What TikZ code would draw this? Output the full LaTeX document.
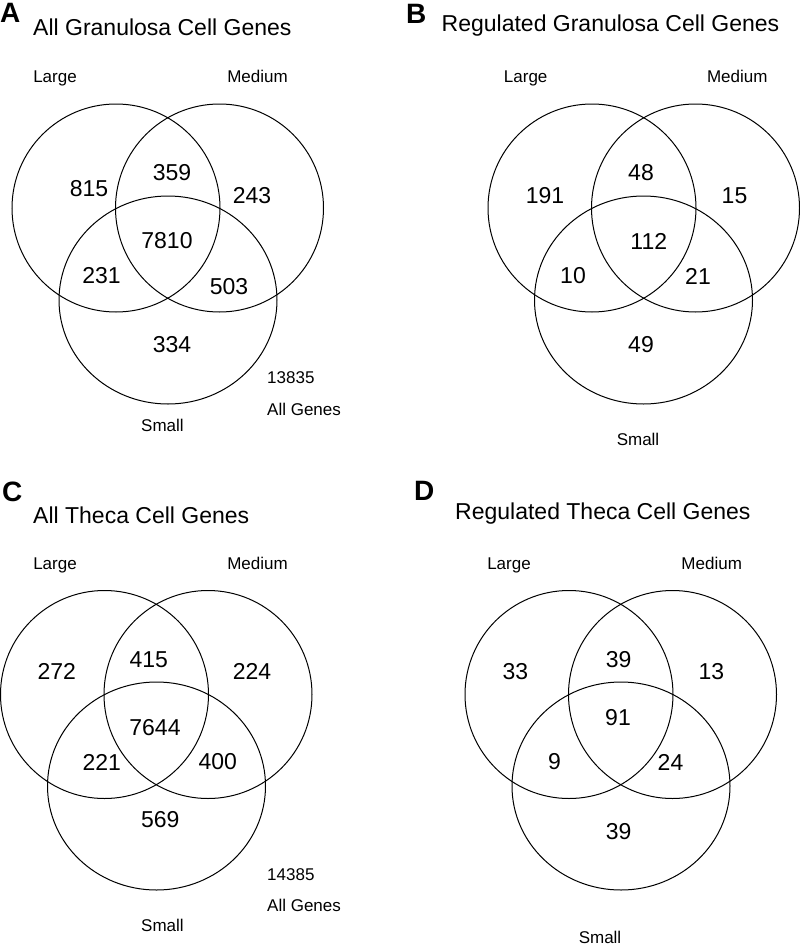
\documentclass[tikz,border=0pt]{standalone}
\usepackage{fontspec}
\setmainfont{Liberation Sans}
\usetikzlibrary{shapes.geometric}
\tikzstyle{ring} = [circle, draw=black, line width=1pt, minimum size=208pt, inner sep=0pt]
\tikzstyle{oval} = [ellipse, draw=black, line width=1pt, minimum width=218pt, minimum height=208pt, inner sep=0pt]
\tikzstyle{count} = [font=\fontsize{23}{27}\selectfont, inner sep=0pt]
\tikzstyle{setname} = [font=\fontsize{17}{20}\selectfont, anchor=base, inner sep=0pt]
\tikzstyle{heading} = [font=\fontsize{23}{27}\selectfont, anchor=base west, inner sep=0pt]
\tikzstyle{panel} = [font=\fontsize{28}{32}\selectfont\bfseries, anchor=base west, inner sep=0pt]
\tikzstyle{total} = [font=\fontsize{17}{20}\selectfont, anchor=base west, inner sep=0pt]

\begin{document}
\begin{tikzpicture}[x=1pt, y=-1pt]
    \useasboundingbox (0,0) rectangle (800,945);

    % A: all granulosa cell genes
    \node (panA) [panel] at (0,22) {A};
    \node (headA) [heading] at (33,35) {All Granulosa Cell Genes};
    \node (largeA) [setname] at (55,82) {Large};
    \node (mediumA) [setname] at (257.5,82) {Medium};
    \node (smallA) [setname] at (162.5,431.5) {Small};
    \node (ringLA) [ring] at (116,208) {};
    \node (ringMA) [ring] at (219.5,208) {};
    \node (ringSA) [oval] at (168,300) {};
    \node (lA) [count] at (89,189) {815};
    \node (lmA) [count] at (172,172.5) {359};
    \node (mA) [count] at (252,195.5) {243};
    \node (lmsA) [count] at (167,241) {7810};
    \node (lsA) [count] at (101.5,276) {231};
    \node (msA) [count] at (229,287) {503};
    \node (sA) [count] at (172,344.5) {334};
    \node (totA) [total] at (267,383) {13835};
    \node (allA) [total] at (267,415) {All Genes};

    % B: regulated granulosa cell genes
    \node (panB) [panel] at (406,23) {B};
    \node (headB) [heading] at (441.5,31.7) {Regulated Granulosa Cell Genes};
    \node (largeB) [setname] at (525.7,82) {Large};
    \node (mediumB) [setname] at (737.3,82) {Medium};
    \node (smallB) [setname] at (638,445) {Small};
    \node (ringLB) [ring] at (592,208) {};
    \node (ringMB) [ring] at (695.5,208) {};
    \node (ringSB) [oval] at (643.5,300) {};
    \node (lB) [count] at (545,195.5) {191};
    \node (lmB) [count] at (641,172.5) {48};
    \node (mB) [count] at (734.5,195.5) {15};
    \node (lmsB) [count] at (648.8,241) {112};
    \node (lsB) [count] at (573,276) {10};
    \node (msB) [count] at (698,276) {21};
    \node (sB) [count] at (641,344.5) {49};

    % C: all theca cell genes
    \node (panC) [panel] at (2,501) {C};
    \node (headC) [heading] at (33,523.3) {All Theca Cell Genes};
    \node (largeC) [setname] at (55,569.3) {Large};
    \node (mediumC) [setname] at (257.5,569.3) {Medium};
    \node (smallC) [setname] at (162.5,931.7) {Small};
    \node (ringLC) [ring] at (104.5,694.5) {};
    \node (ringMC) [ring] at (208,694.5) {};
    \node (ringSC) [oval] at (156.5,786) {};
    \node (lC) [count] at (56.7,671.3) {272};
    \node (lmC) [count] at (148.8,659.5) {415};
    \node (mC) [count] at (252,671.3) {224};
    \node (lmsC) [count] at (155,728) {7644};
    \node (lsC) [count] at (101.7,762) {221};
    \node (msC) [count] at (217.8,762) {400};
    \node (sC) [count] at (160.3,819.5) {569};
    \node (totC) [total] at (267,880) {14385};
    \node (allC) [total] at (267,911.7) {All Genes};

    % D: regulated theca cell genes
    \node (panD) [panel] at (414,500) {D};
    \node (headD) [heading] at (455,519.3) {Regulated Theca Cell Genes};
    \node (largeD) [setname] at (509,569.3) {Large};
    \node (mediumD) [setname] at (711.7,569.3) {Medium};
    \node (smallD) [setname] at (600,943) {Small};
    \node (ringLD) [ring] at (569,694.5) {};
    \node (ringMD) [ring] at (672.5,694.5) {};
    \node (ringSD) [oval] at (621,786) {};
    \node (lD) [count] at (515.3,671.3) {33};
    \node (lmD) [count] at (618.7,659.5) {39};
    \node (mD) [count] at (711.3,671.3) {13};
    \node (lmsD) [count] at (618,717.2) {91};
    \node (lsD) [count] at (554.5,762) {9};
    \node (msD) [count] at (670.5,762) {24};
    \node (sD) [count] at (618.7,831.7) {39};
\end{tikzpicture}
\end{document}
